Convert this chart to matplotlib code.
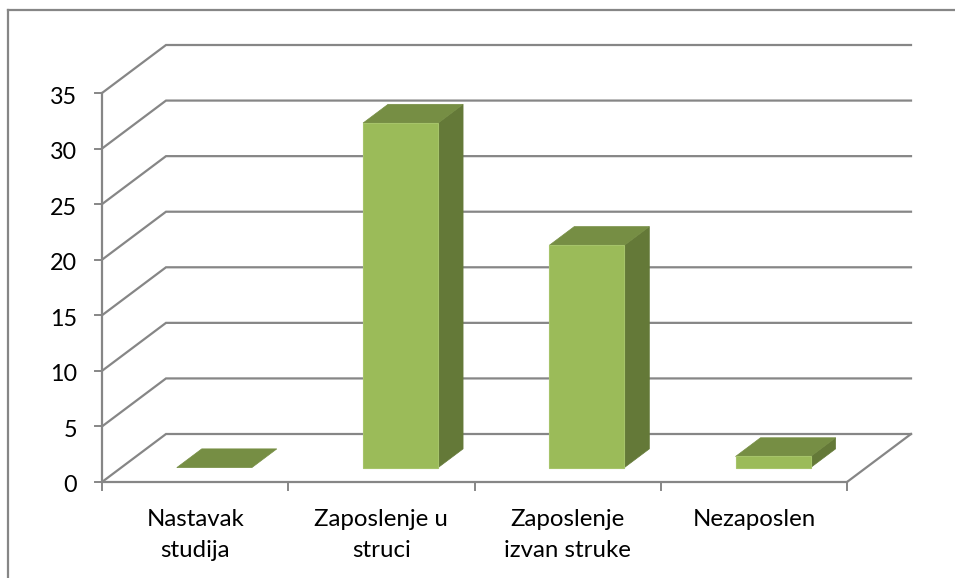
import matplotlib
matplotlib.use("Agg")
import matplotlib.pyplot as plt
from matplotlib.patches import Polygon

categories = ["Nastavak\nstudija", "Zaposlenje u\nstruci", "Zaposlenje\nizvan struke", "Nezaposlen"]
values = [0, 31, 20, 1]
y_ticks = [0, 5, 10, 15, 20, 25, 30, 35]

W, H = 955, 578
plt.rcParams["font.family"] = ["Lato", "DejaVu Sans"]
fig = plt.figure(figsize=(W / 100, H / 100), dpi=100, facecolor="white")

L, R, T, B = 102, 847, 93, 482
ax = fig.add_axes([L / W, 1 - B / H, (R - L) / W, (B - T) / H])
ax.set_xlim(0, 4)
ax.set_ylim(0, 35)
ax.axis("off")

GREY = "#868686"
PX_X = (R - L) / 4
PX_Y = (B - T) / 35
DX = 64 / PX_X
DY = 48 / PX_Y


def proj(x, y, d):
    """Project (category x, value y, depth d in 0..1) to axes data coordinates."""
    return (x + DX * d, y + DY * d)


def line(pts, lw=2.0, color=GREY, z=1):
    ax.plot([p[0] for p in pts], [p[1] for p in pts], color=color, lw=lw, zorder=z,
            clip_on=False, solid_capstyle="projecting", solid_joinstyle="miter")


for v in y_ticks:
    line([proj(0, v, 0), proj(0, v, 1), proj(4, v, 1)], lw=1.6)
line([proj(4, 0, 0), proj(4, 0, 1)], lw=1.6)
line([(0, 0), (0, 35)], lw=1.6)
line([(0, 0), (4, 0)], lw=1.6)
for v in y_ticks:
    line([(-7 / PX_X, v), (0, v)], lw=1.4)
    ax.text(-0.135, v - 10.5 / PX_Y, str(v), ha="right", va="baseline", fontsize=16.8,
            color="#000000", clip_on=False)
for i in range(5):
    line([(i, 0), (i, -8 / PX_Y)], lw=1.4)
for i, c in enumerate(categories):
    for j, part in enumerate(c.split("\n")):
        ax.text(i + 0.5, -(44 + 31 * j) / PX_Y, part, ha="center", va="baseline", fontsize=17.3,
                color="#000000", clip_on=False)

WIDTH = 0.403
D0, D1 = 0.30, 0.69
FRONT, TOP, SIDE = "#9bbb59", "#768e44", "#647938"
for i, v in enumerate(values):
    x0 = i + 0.5 - WIDTH / 2
    x1 = x0 + WIDTH
    a = proj(x0, 0, D0); b = proj(x1, 0, D0)
    c = proj(x1, v, D0); d = proj(x0, v, D0)
    e = proj(x1, 0, D1); f = proj(x1, v, D1); g = proj(x0, v, D1)
    if v > 0:
        ax.add_patch(Polygon([b, e, f, c], closed=True, fc=SIDE, ec=SIDE, lw=0.5, zorder=3, clip_on=False))
    ax.add_patch(Polygon([d, c, f, g], closed=True, fc=TOP, ec=TOP, lw=0.5, zorder=3, clip_on=False))
    if v > 0:
        ax.add_patch(Polygon([a, b, c, d], closed=True, fc=FRONT, ec="#a6c46a", lw=0.8, zorder=4, clip_on=False))

fig.add_artist(plt.Line2D([8 / W, 8 / W], [0, 1 - 10 / H], color=GREY, lw=1.6))
fig.add_artist(plt.Line2D([8 / W, 1], [1 - 10 / H, 1 - 10 / H], color=GREY, lw=1.6))

fig.savefig("out.png", dpi=100)
